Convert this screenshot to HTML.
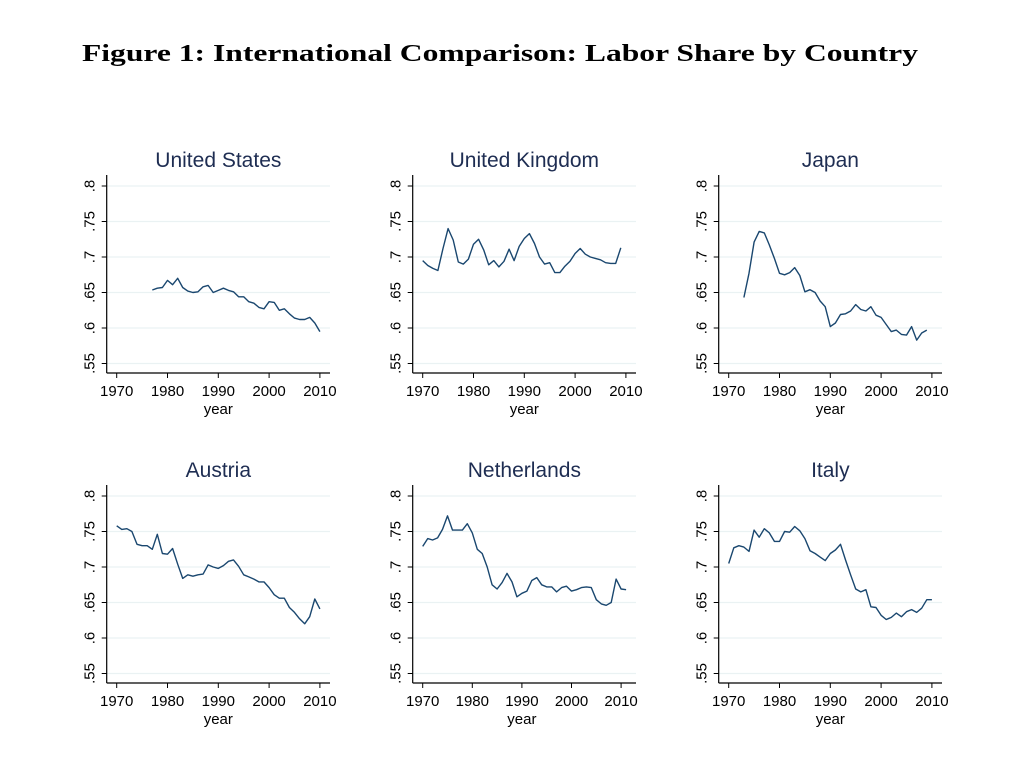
<!DOCTYPE html>
<html><head><meta charset="utf-8"><style>
html,body{margin:0;padding:0;background:#fff;width:1024px;height:768px;overflow:hidden}
svg{display:block}
</style></head><body>
<svg id="fig" width="1024" height="768" xmlns="http://www.w3.org/2000/svg">
<text x="82" y="61" textLength="836" lengthAdjust="spacingAndGlyphs" font-family="Liberation Serif, serif" font-weight="bold" font-size="24" fill="#000">Figure 1: International Comparison: Labor Share by Country</text>
</svg>
<script>
const countries = ["United States","United Kingdom","Japan","Austria","Netherlands","Italy"];
const startYears = [1977,1970,1973,1970,1970,1970];
const usValues = [.6535,.656,.657,.667,.661,.670,.657,.652,.650,.651,.658,.660,.650,.653,.656,.653,.651,.644,.644,.637,.635,.629,.627,.637,.636,.625,.627,.620,.614,.612,.612,.615,.607,.595];
const ukValues = [.695,.688,.684,.681,.712,.740,.724,.693,.690,.697,.718,.725,.710,.689,.695,.686,.694,.711,.695,.715,.726,.733,.719,.700,.690,.692,.678,.678,.687,.694,.705,.712,.704,.700,.698,.696,.692,.691,.691,.713];
const jpValues = [.643,.677,.721,.736,.734,.717,.698,.677,.675,.678,.685,.674,.651,.654,.650,.638,.630,.602,.607,.619,.620,.624,.633,.626,.624,.630,.618,.615,.605,.595,.597,.591,.590,.602,.583,.593,.597];
const atValues = [.758,.753,.754,.750,.732,.730,.730,.725,.746,.719,.718,.726,.704,.684,.689,.687,.689,.690,.703,.700,.698,.702,.708,.710,.701,.689,.686,.683,.679,.679,.671,.661,.656,.656,.643,.636,.627,.620,.630,.655,.641];
const nlValues = [.729,.740,.738,.741,.753,.772,.752,.752,.752,.761,.748,.725,.719,.700,.675,.669,.678,.691,.679,.658,.663,.666,.681,.685,.675,.672,.672,.665,.671,.673,.666,.668,.671,.672,.671,.654,.648,.646,.650,.683,.669,.668];
const itValues = [.705,.727,.730,.728,.722,.752,.742,.754,.748,.736,.736,.750,.749,.757,.751,.740,.723,.719,.714,.709,.719,.724,.732,.710,.689,.669,.665,.668,.644,.643,.632,.626,.629,.635,.630,.637,.640,.636,.642,.654,.654];
const xTicks = [1970,1980,1990,2000,2010];
const yTicks = [.55,.6,.65,.7,.75,.8];
const yTickLabels = [".55",".6",".65",".7",".75",".8"];
const series = [usValues,ukValues,jpValues,atValues,nlValues,itValues];
const xMaxes = [2012,2012,2012,2012,2013,2012];

const NS="http://www.w3.org/2000/svg";
const svg=document.getElementById('fig');
function mk(tag,attrs,parent){const e=document.createElementNS(NS,tag);for(const k in attrs)e.setAttribute(k,attrs[k]);(parent||svg).appendChild(e);return e;}
const slug=s=>s.toLowerCase().replace(/\s+/g,'-');

countries.forEach((name,i)=>{
  const col=i%3,row=Math.floor(i/3);
  const ox=col*306,oy=row*310;
  const left=106.7+ox,right=330+ox,bottom=373+oy;
  const x0=116.7+ox;
  const pxYr=(xMaxes[i]===2013)?4.96:5.08;
  const X=yr=>x0+(yr-1970)*pxYr;
  const Y=v=>186+oy+(0.8-v)/0.05*35.5;
  const g=mk('g',{});
  
  
  const t=mk('text',{x:(left+right)/2,y:167+oy,'text-anchor':'middle','font-family':'Liberation Sans, sans-serif','font-size':21,fill:'#1e2d52'},g);
  t.textContent=name;
  
  
  yTicks.forEach((v,j)=>{
    const gl=mk('line',{x1:left,x2:right,y1:Y(v),y2:Y(v),stroke:'#eaf2f3','stroke-width':1.3},g);
    
    
    mk('line',{x1:left-5,x2:left,y1:Y(v),y2:Y(v),stroke:'#000','stroke-width':1},g);
    const yy=Y(v);
    const lt=mk('text',{x:0,y:0,transform:`translate(${94.5+ox},${yy}) rotate(-90)`,'text-anchor':'middle','font-family':'Liberation Sans, sans-serif','font-size':15,fill:'#000'},g);
    lt.textContent=yTickLabels[j];
    
    
  });
  mk('line',{x1:left,x2:left,y1:175+oy,y2:bottom,stroke:'#000','stroke-width':1.2},g);
  mk('line',{x1:left,x2:right,y1:bottom,y2:bottom,stroke:'#000','stroke-width':1.2},g);
  xTicks.forEach(yr=>{
    mk('line',{x1:X(yr),x2:X(yr),y1:bottom,y2:bottom+5,stroke:'#000','stroke-width':1},g);
    const xt=mk('text',{x:X(yr),y:396+oy,'text-anchor':'middle','font-family':'Liberation Sans, sans-serif','font-size':15,fill:'#000'},g);
    xt.textContent=yr;
    
    
  });
  const xl=mk('text',{x:X(1990),y:414+oy,'text-anchor':'middle','font-family':'Liberation Sans, sans-serif','font-size':15,fill:'#000'},g);
  xl.textContent='year';
  
  
  const vals=series[i];
  const pts=vals.map((v,k)=>X(startYears[i]+k).toFixed(1)+','+Y(v).toFixed(1)).join(' ');
  const pl=mk('polyline',{points:pts,fill:'none',stroke:'#1a476f','stroke-width':1.4,'stroke-linejoin':'round'},g);
  
  
});
</script>
</body></html>
